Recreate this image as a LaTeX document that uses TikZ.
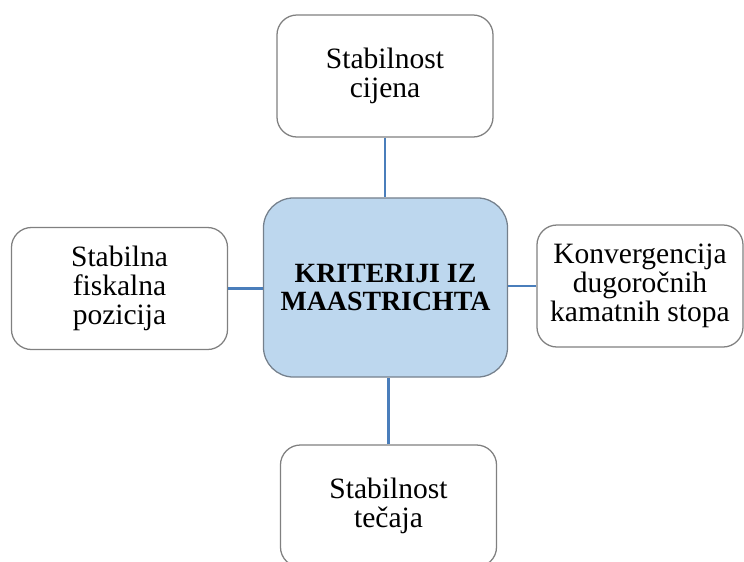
\documentclass[tikz,border=0pt]{standalone}
\usepackage{fontspec}
\setmainfont{Liberation Serif}
\usetikzlibrary{positioning}

\definecolor{linkblue}{RGB}{74,126,187}
\definecolor{boxgray}{RGB}{128,128,128}
\definecolor{hubfill}{RGB}{189,215,238}

\tikzset{
  crit/.style={draw=boxgray, line width=0.9pt, fill=white, rounded corners=0.5cm,
    align=center, inner sep=0pt, minimum width=5.4cm, minimum height=3.05cm,
    font=\fontsize{21}{20.6}\selectfont},
  hub/.style={draw=boxgray!80!linkblue, line width=0.9pt, fill=hubfill, rounded corners=0.75cm,
    align=center, inner sep=0pt, minimum width=6.1cm, minimum height=4.475cm,
    font=\fontsize{19.8}{19.4}\selectfont\bfseries},
  link/.style={draw=linkblue, line width=1.9pt}
}

\begin{document}
\begin{tikzpicture}[x=0.025cm, y=-0.025cm]
\useasboundingbox (0,0) rectangle (744,561);
\clip (0,0) rectangle (744,561);
\node [hub] (kriteriji) at (385.5,287.5) {KRITERIJI IZ\\MAASTRICHTA};
\node [crit] (cijene) at (385,76) {Stabilnost\\cijena};
\node [crit] (fiskalna) at (119.5,288.5) {Stabilna\\fiskalna\\pozicija};
\node [crit, minimum width=5.15cm] (kamate) at (640,286) {Konvergencija\\dugoročnih\\kamatnih stopa};
\node [crit] (tecaj) at (388.5,506) {Stabilnost\\tečaja};
\draw [link] (cijene.south) -- (cijene.south |- kriteriji.north);
\draw [link] (fiskalna.east) -- (fiskalna.east -| kriteriji.west);
\draw [link] (kamate.west) -- (kamate.west -| kriteriji.east);
\draw [link] (tecaj.north) -- (tecaj.north |- kriteriji.south);
\end{tikzpicture}
\end{document}
